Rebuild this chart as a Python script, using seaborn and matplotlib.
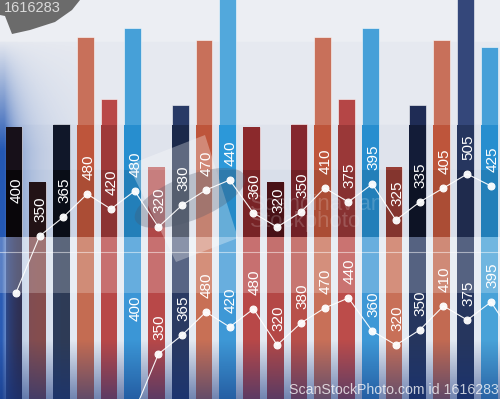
import colorsys

import matplotlib
matplotlib.use("Agg")
import matplotlib.pyplot as plt
import matplotlib.transforms as mtransforms
import numpy as np
import pandas as pd
import seaborn as sns
from matplotlib.colors import to_rgb
from matplotlib.patches import Ellipse, Polygon

# ---- data ----------------------------------------------------------------
bar_ids = [f"b{i:02d}" for i in range(21)]
# bar heights above the floor of the upper panel (panel is 237 units tall)
bar_heights = [110, 55, 113, 200, 138, 209, 70, 132, 197, 240, 110,
               55, 113, 200, 138, 209, 70, 132, 197, 240, 190]
# height of the white line markers, same units
line_values = [-56, 1, 20, 43, 28, 46, 10, 32, 47, 57, 24,
               10, 25, 49, 35, 53, 17, 35, 49, 63, 51]
value_labels = ["400", "350", "365", "480", "420", "480", "320", "380",
                "470", "440", "360", "320", "350", "410", "375", "395",
                "325", "335", "405", "505", "425"]

# ---- styles ---------------------------------------------------------------
top_colors = ["#2e2032", "#4d2a30", "#1d2845", "#c8705a", "#b94848", "#46a0d8",
              "#c47474", "#283a66", "#c8705a", "#52a8dc", "#a83539", "#7b2029",
              "#a2333b", "#c8705a", "#b54646", "#46a0d8", "#b24b42", "#1f2c55",
              "#c8705a", "#34477a", "#46a0d8"]
stripe_colors = ["#30243a", "#8c4c46", "#2e3b56", "#c46c52", "#b84848", "#3b96d6",
                 "#b84848", "#2a3a62", "#c87055", "#3e98d6", "#b84848", "#b44846",
                 "#b8504a", "#c87058", "#bc4c4a", "#3e98d6", "#c87058", "#26365e",
                 "#c26a52", "#26365e", "#48a2d8"]


def shade(c, dl):
    r, g, b = to_rgb(c)
    h, l, s = colorsys.rgb_to_hls(r, g, b)
    return colorsys.hls_to_rgb(h, max(l - dl, 0.0), min(s * 1.05, 1.0))


W, H = 500, 399
TOP_H, BOT_H = 237, 162
XLIM = (-0.589, 20.46)
LABEL_FONT = ["Liberation Sans Narrow", "Liberation Sans", "DejaVu Sans"]

fig = plt.figure(figsize=(W / 100, H / 100), dpi=100)
ax_bot = fig.add_axes([0, 0, 1, BOT_H / H])
ax_top = fig.add_axes([0, BOT_H / H, 1, TOP_H / H])
ax_top.set_zorder(2)
ax_bot.set_zorder(1)


def px(x, y):
    # image pixel -> figure fraction
    return (x / W, 1 - y / H)


# ---- upper panel ----------------------------------------------------------
ax_top.set_facecolor("#eceef3")
ax_top.axhspan(112, 195, color="#e6e9f0", zorder=0)
ax_top.axhspan(67, 112, color="#dfe3ec", zorder=0)
ax_top.axhspan(0, 67, color="#d9dfea", zorder=0)

# blue glow on the left edge
gx = np.linspace(0, 90, 120)
gy = np.linspace(0, TOP_H, 120)          # image y, top to bottom
GX, GY = np.meshgrid(gx, gy)
ramp = np.clip((GY - 40) / 110, 0, 1)
glow_a = np.clip(0.95 * np.exp(-GX / 12) + 0.35 * np.exp(-GX / 45), 0, 1) * ramp
glow = np.zeros((120, 120, 4))
glow[..., :3] = to_rgb("#2458b4")
glow[..., 3] = glow_a
ax_top.imshow(glow, extent=[XLIM[0], XLIM[0] + 90 / 23.75, 0, TOP_H],
              aspect="auto", zorder=0.5, origin="upper")

top_df = pd.DataFrame({"bar": bar_ids, "height": bar_heights})
passes = [
    (top_df["height"], {b: c for b, c in zip(bar_ids, top_colors)}, 0.7),
    (np.minimum(top_df["height"], 112), {b: shade(c, 0.08) for b, c in zip(bar_ids, top_colors)}, 0),
    (np.minimum(top_df["height"], 67), {b: shade(c, 0.13) for b, c in zip(bar_ids, top_colors)}, 0),
]
for heights, pal, lw in passes:
    sns.barplot(x=top_df["bar"], y=heights, hue=top_df["bar"], palette=pal,
                order=bar_ids, hue_order=bar_ids, saturation=1, width=0.71,
                errorbar=None, legend=False, edgecolor=(1, 1, 1, 0.55),
                linewidth=lw, ax=ax_top)

xs = np.arange(len(bar_ids)) + 0.08
sns.lineplot(x=xs, y=line_values, color="white", linewidth=0.8, marker="o",
             markersize=5, markeredgecolor="white", alpha=0.95, sort=False,
             ax=ax_top, clip_on=False, zorder=5)

label_y = np.array(line_values, dtype=float) + 27
label_y[0] = label_y[2]  # first point dips into the lower panel; its label stays up
for x, y, t in zip(xs, label_y, value_labels):
    ax_top.text(x + 0.05, y, t, rotation=90, ha="center", va="center",
                color="white", fontsize=11, family=LABEL_FONT, zorder=6)

# ---- lower panel: stripes with the same series shifted -------------------
ax_bot.set_facecolor("#e4eaf2")
bot_df = pd.DataFrame({"bar": bar_ids, "fill": np.full(len(bar_ids), BOT_H)})
sns.barplot(data=bot_df, x="bar", y="fill", hue="bar",
            palette={b: c for b, c in zip(bar_ids, stripe_colors)},
            order=bar_ids, hue_order=bar_ids, saturation=1, width=0.71,
            errorbar=None, legend=False, linewidth=0, ax=ax_bot)

# left blue edge
bx = np.linspace(0, 60, 80)
BX, _ = np.meshgrid(bx, np.arange(80))
edge = np.zeros((80, 80, 4))
edge[..., :3] = to_rgb("#2a5cb5")
edge[..., 3] = np.clip(0.95 * np.exp(-BX / 8) + 0.25 * np.exp(-BX / 30), 0, 1)
ax_bot.imshow(edge, extent=[XLIM[0], XLIM[0] + 60 / 23.75, 0, BOT_H],
              aspect="auto", zorder=1.5)

# lighter band and thin highlight line
ax_bot.axhspan(106, BOT_H, color="white", alpha=0.22, zorder=2.4, lw=0)
ax_bot.axhline(147, color="white", alpha=0.5, lw=0.8, zorder=2.4)

# darkening towards the bottom
fade = np.zeros((60, 2, 4))
fade[..., :3] = to_rgb("#12307a")
fade[..., 3] = np.linspace(0, 0.55, 60)[:, None]
ax_bot.imshow(fade, extent=[XLIM[0], XLIM[1], 0, 60], aspect="auto",
              zorder=2.5, origin="upper")

shift = 5
bx_pos = np.arange(len(bar_ids)) + shift + 0.08
keep = bx_pos <= XLIM[1] + 1
sns.lineplot(x=bx_pos[keep], y=np.array(line_values)[keep] + 44, color="white",
             linewidth=0.8, marker="o", markersize=5, markeredgecolor="white",
             alpha=0.95, sort=False, ax=ax_bot, zorder=5)
for x, y, t in zip(bx_pos, label_y + 44, value_labels):
    if x <= XLIM[1]:
        ax_bot.text(x + 0.05, y, t, rotation=90, ha="center", va="center",
                    color="white", fontsize=11, family=LABEL_FONT, zorder=6)

for ax, top in ((ax_top, TOP_H), (ax_bot, BOT_H)):
    ax.set_xlim(*XLIM)
    ax.set_ylim(0, top)
    ax.set(xticks=[], yticks=[], xlabel="", ylabel="")
    sns.despine(ax=ax, left=True, bottom=True)

# ---- decorative overlays and watermarks -----------------------------------
card = Polygon([px(128, 165), px(205, 135), px(238, 238), px(176, 262)],
               closed=True, transform=fig.transFigure, facecolor="white",
               alpha=0.3, lw=0, zorder=4, clip_on=False)
ax_top.add_patch(card)
oval = Ellipse((190, H - 198), 118, 44, angle=22,
               transform=mtransforms.IdentityTransform(),
               facecolor="#4a5568", alpha=0.28, lw=0, zorder=4, clip_on=False)
ax_top.add_patch(oval)

badge = Polygon([px(0, 0), px(80, 0), px(72, 10), px(55, 22), px(30, 30),
                 px(12, 34), px(5, 16), px(0, 15)], closed=True,
                transform=fig.transFigure, facecolor="#6b6b6b", lw=0,
                zorder=7, clip_on=False)
ax_top.add_patch(badge)
fig.text(*px(4, 8), "1616283", ha="left", va="center", color="#dadada",
         fontsize=10.5, family=["Liberation Sans", "DejaVu Sans"], zorder=8)

fig.text(*px(250, 205), "Scandinavian", ha="left", va="center", color="white",
         alpha=0.18, fontsize=16, family=["Liberation Sans", "DejaVu Sans"])
fig.text(*px(250, 221), "Stockphoto", ha="left", va="center", color="white",
         alpha=0.18, fontsize=16, family=["Liberation Sans", "DejaVu Sans"])
fig.text(*px(289, 390), "ScanStockPhoto.com id 1616283", ha="left",
         va="center", color="white", alpha=0.75, fontsize=10.2,
         family=["Liberation Sans", "DejaVu Sans"])

fig.savefig("out.png", dpi=100)
